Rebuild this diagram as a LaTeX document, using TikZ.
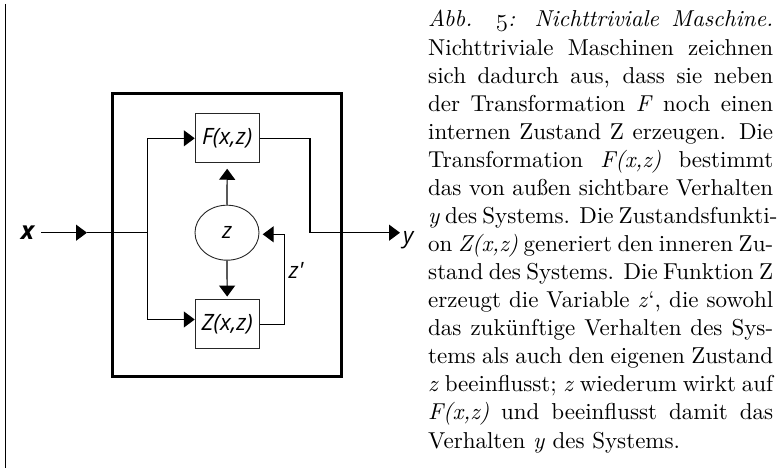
\documentclass[tikz,border=0pt]{standalone}
\usepackage{fontspec}
\setmainfont{lmroman10}[Extension=.otf, UprightFont=*-regular, ItalicFont=*-italic, BoldFont=*-bold, BoldItalicFont=*-bolditalic]
\newfontfamily\dsf{Open Sans}
\usetikzlibrary{arrows.meta,shapes.geometric}
\newcommand{\osfive}{{\usefont{OML}{cmm}{m}{it}\fontsize{23}{28}\selectfont 5}}
\begin{document}
\begin{tikzpicture}[x=1pt,y=-1pt,
  dfont/.style={font=\dsf\itshape\fontsize{22.5}{24}\selectfont},
  blk/.style={draw=black!85, line width=0.9pt, minimum width=64pt, minimum height=49pt, inner sep=0pt, dfont},
  ln/.style={line width=1.2pt},
  arr/.style={line width=1.2pt, -{Triangle[length=11pt,width=16pt]}},
  txt/.style={anchor=base west, inner sep=0pt, font=\fontsize{23}{28}\selectfont},
]
\useasboundingbox (0,0) rectangle (779,468);
% left rule
\draw[line width=1.3pt] (5.7,4) -- (5.7,468);
% system box
\node[draw, line width=3pt, minimum width=229pt, minimum height=282.7pt, inner sep=0pt] (sys) at (227.2,234.7) {};
\node[blk] (F) at (227.2,138.3) {F(x,z)};
\node[blk] (Z) at (227.2,324.3) {Z(x,z)};
\node[ellipse, draw=black!85, line width=0.9pt, minimum width=64pt, minimum height=55pt, inner sep=0pt, dfont] (zc) at (227,232.7) {z};
\node[font=\dsf\bfseries\itshape\fontsize{25}{26}\selectfont, inner sep=0pt] (xl) at (27.5,232.7) {x};
\node[dfont, anchor=base west, inner sep=0pt] (yl) at (403,243) {y};
\node[dfont, inner sep=0pt] (zp) at (296,270) {z'};
% coordinates
\coordinate (xa) at (87,232.7);
\coordinate (b) at (147.3,232.7);
\coordinate (tf) at (310,232.7);
\coordinate (ya) at (400,232.7);
\coordinate (fbt) at (284.3,234.3);
\coordinate (fba) at (262.7,234.3);
% connectors
\draw[arr, shorten <=7pt] (xl.east) -- (xa);
\draw[ln] (xa) -- (b);
\draw[arr] (b) |- (F.west);
\draw[arr] (b) |- ([yshift=4.8pt]Z.west);
\draw[arr] (F.east) -| (tf) -- (ya);
\draw[arr, shorten >=5.5pt] (zc.north) -- (F.south);
\draw[arr, shorten >=2.8pt] (zc.south) -- (Z.north);
\draw[arr] (Z.east) -| (fbt) -- (fba);
% text
\node[txt] (t1) at (428,27) {\makebox[345pt][s]{\itshape Abb. \osfive: Nichttriviale Maschine.}};
\node[txt] (t2) at (428,55.07) {\makebox[345pt][s]{Nichttriviale Maschinen zeichnen}};
\node[txt] (t3) at (428,83.14) {\makebox[345pt][s]{sich dadurch aus, dass sie neben}};
\node[txt] (t4) at (428,111.21) {\makebox[345pt][s]{der Transformation \textit{F} noch einen}};
\node[txt] (t5) at (428,139.28) {\makebox[345pt][s]{internen Zustand Z erzeugen. Die}};
\node[txt] (t6) at (428,167.35) {\makebox[345pt][s]{Transformation \textit{F(x,z)} bestimmt}};
\node[txt] (t7) at (428,195.42) {\makebox[345pt][s]{das von außen sichtbare Verhalten}};
\node[txt] (t8) at (428,223.49) {\makebox[345pt][s]{\textit{y} des Systems. Die Zustandsfunkti-}};
\node[txt] (t9) at (428,251.56) {\makebox[345pt][s]{on \textit{Z(x,z)} generiert den inneren Zu-}};
\node[txt] (t10) at (428,279.63) {\makebox[345pt][s]{stand des Systems. Die Funktion Z}};
\node[txt] (t11) at (428,307.7) {\makebox[345pt][s]{erzeugt die Variable \textit{z}‘, die sowohl}};
\node[txt] (t12) at (428,335.77) {\makebox[345pt][s]{das zukünftige Verhalten des Sys-}};
\node[txt] (t13) at (428,363.84) {\makebox[345pt][s]{tems als auch den eigenen Zustand}};
\node[txt] (t14) at (428,391.91) {\makebox[345pt][s]{\textit{z} beeinflusst; \textit{z} wiederum wirkt auf}};
\node[txt] (t15) at (428,419.98) {\makebox[345pt][s]{\textit{F(x,z)} und beeinflusst damit das}};
\node[txt] (t16) at (428,448.05) {Verhalten \textit{y} des Systems.};
\end{tikzpicture}
\end{document}
